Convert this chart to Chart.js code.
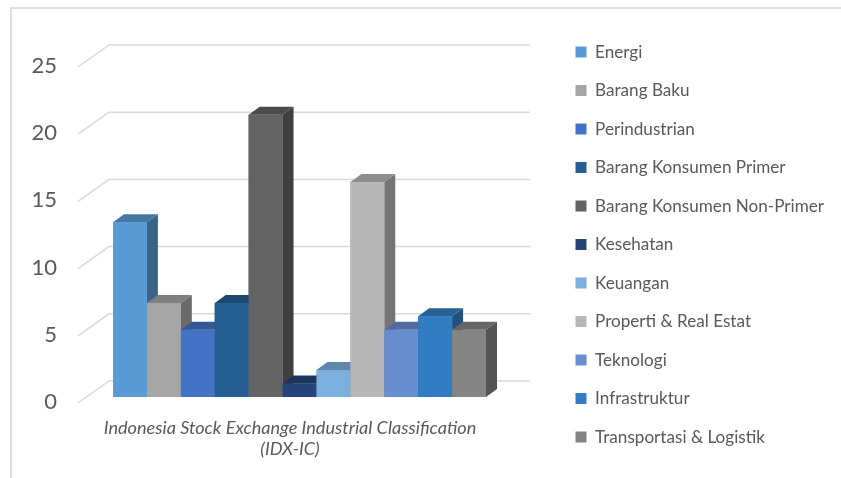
<!DOCTYPE html>
<html><head><meta charset="utf-8">
<script src="https://cdn.jsdelivr.net/npm/chart.js@4.4.0/dist/chart.umd.min.js"></script>
<style>
html,body{margin:0;padding:0;background:#fff;}
#wrap{position:relative;width:841px;height:478px;overflow:hidden;}
#frame{position:absolute;left:10px;top:7px;width:2000px;height:2000px;border-top:2px solid #dedede;border-left:2px solid #dedede;}
canvas{position:absolute;left:0;top:0;}
</style></head><body>
<div id="wrap"><div id="frame"></div><canvas id="c" width="841" height="478"></canvas></div>
<script>
// ---- data ----
const categoryLabel = ["Indonesia Stock Exchange Industrial Classification", "(IDX-IC)"];
const sectors = ["Energi", "Barang Baku", "Perindustrian", "Barang Konsumen Primer",
  "Barang Konsumen Non-Primer", "Kesehatan", "Keuangan", "Properti & Real Estat",
  "Teknologi", "Infrastruktur", "Transportasi & Logistik"];
const counts = [13, 7, 5, 7, 21, 1, 2, 16, 5, 6, 5];
const colors = ["#5B9BD5", "#A5A5A5", "#4472C4", "#255E91", "#636363", "#264478",
  "#7CAFDD", "#B7B7B7", "#698ED0", "#327DC2", "#848484"];
const yMin = 0, yMax = 25, yStep = 5;

// ---- styling / layout constants ----
const TEXT = '#595959';
const FONT = 'Lato';
const DX = 11, DY = -8;           // bar depth
const BACK_DX = 31, BACK_DY = -16, FRONT_DY = 6;

function shade(hex, f) {
  const n = parseInt(hex.slice(1), 16);
  const r = Math.round(((n >> 16) & 255) * f), g = Math.round(((n >> 8) & 255) * f), b = Math.round((n & 255) * f);
  return `rgb(${r},${g},${b})`;
}

// size fonts so text widths match the reference
const mctx = document.createElement('canvas').getContext('2d');
mctx.font = `16px ${FONT}`;
const longest = sectors.reduce((a, s) => mctx.measureText(s).width > mctx.measureText(a).width ? s : a, sectors[0]);
const LEG_FONT = 16 * 229 / mctx.measureText(longest).width;
mctx.font = `italic 16px ${FONT}`;
const X_FONT = 16 * 373 / mctx.measureText(categoryLabel[0]).width;
mctx.font = `${LEG_FONT}px ${FONT}`;
const maxW = mctx.measureText(longest).width;

const LEG_BOX = 11;
const LEG_PAD = 38.5 - LEG_FONT;
const firstTop = 52 - LEG_FONT / 2;
const titlePadTop = Math.max(0, firstTop - LEG_PAD - 14.4);
const boxX = 575.5;
const legendLeft = boxX - LEG_PAD;
const legendWidth = 10 + LEG_PAD + LEG_BOX + LEG_FONT / 2 + maxW;
const padRight = Math.max(0, 841 - legendLeft - legendWidth);

const bar3d = {
  id: 'bar3d',
  beforeDatasetsDraw(chart) {
    const { ctx, chartArea, scales: { y } } = chart;
    ctx.save();
    ctx.strokeStyle = '#d9d9d9';
    ctx.lineWidth = 1.5;
    y.ticks.forEach(t => {
      const p = y.getPixelForValue(t.value);
      ctx.beginPath();
      ctx.moveTo(chartArea.left, p + FRONT_DY);
      ctx.lineTo(chartArea.left + BACK_DX, p + BACK_DY);
      ctx.lineTo(chartArea.right + 9, p + BACK_DY);
      ctx.stroke();
    });
    ctx.restore();
  },
  afterDatasetsDraw(chart) {
    const ctx = chart.ctx;
    const bars = [];
    chart.data.datasets.forEach((ds, i) => {
      chart.getDatasetMeta(i).data.forEach(el => bars.push({ el, color: ds.backgroundColor }));
    });
    bars.sort((a, b) => a.el.x - b.el.x);
    ctx.save();
    bars.forEach(({ el, color }) => {
      const { x, y, base, width } = el.getProps(['x', 'y', 'base', 'width'], true);
      const L = x - width / 2, R = x + width / 2;
      ctx.fillStyle = shade(color, 0.64);
      ctx.beginPath();
      ctx.moveTo(R, y); ctx.lineTo(R + DX, y + DY); ctx.lineTo(R + DX, base + DY); ctx.lineTo(R, base);
      ctx.closePath(); ctx.fill();
      ctx.fillStyle = shade(color, 0.77);
      ctx.beginPath();
      ctx.moveTo(L, y); ctx.lineTo(L + DX, y + DY); ctx.lineTo(R + DX, y + DY); ctx.lineTo(R, y);
      ctx.closePath(); ctx.fill();
      ctx.fillStyle = color;
      ctx.fillRect(L, y, R - L, base - y);
    });
    ctx.restore();
  }
};

new Chart(document.getElementById('c'), {
  type: 'bar',
  data: {
    labels: [categoryLabel],
    datasets: sectors.map((s, i) => ({
      label: s, data: [counts[i]], backgroundColor: colors[i], borderWidth: 0,
      xAxisID: 'x', yAxisID: 'y'
    }))
  },
  options: {
    responsive: false, animation: false,
    layout: { padding: { left: 0, top: 0, bottom: 0, right: padRight } },
    datasets: { bar: { categoryPercentage: 373 / 443, barPercentage: 1 } },
    scales: {
      x: {
        position: 'bottom',
        grid: { display: false, drawTicks: false }, border: { display: false },
        ticks: { color: TEXT, font: { family: FONT, size: X_FONT, style: 'italic', lineHeight: 21 / X_FONT },
          padding: 21, labelOffset: -9.5, maxRotation: 0, autoSkip: false },
        afterFit: s => { s.height = 478 - 397; }
      },
      y: {
        position: 'left', min: yMin, max: yMax,
        grid: { display: false, drawTicks: false, tickLength: 0 }, border: { display: false },
        ticks: { stepSize: yStep, color: TEXT, font: { family: FONT, size: 22 }, padding: 21, labelOffset: 5 },
        afterFit: s => { s.width = 78; }
      },
      x2: {
        type: 'category', position: 'top', display: true,
        grid: { display: false, drawTicks: false }, border: { display: false },
        ticks: { display: false },
        afterFit: s => { s.height = 61; }
      },
      y2: {
        type: 'linear', position: 'right', display: true,
        grid: { display: false, drawTicks: false }, border: { display: false },
        ticks: { display: false },
        afterFit: s => { s.width = legendLeft - 521; }
      }
    },
    plugins: {
      tooltip: { enabled: false },
      legend: {
        position: 'right', align: 'start', maxWidth: 600,
        title: { display: true, text: ' ', font: { size: 12, lineHeight: 1.2 }, padding: { top: titlePadTop, bottom: 0 } },
        labels: { color: TEXT, font: { family: FONT, size: LEG_FONT }, boxWidth: LEG_BOX, boxHeight: LEG_BOX, padding: LEG_PAD }
      }
    }
  },
  plugins: [bar3d]
});
</script>
</body></html>
